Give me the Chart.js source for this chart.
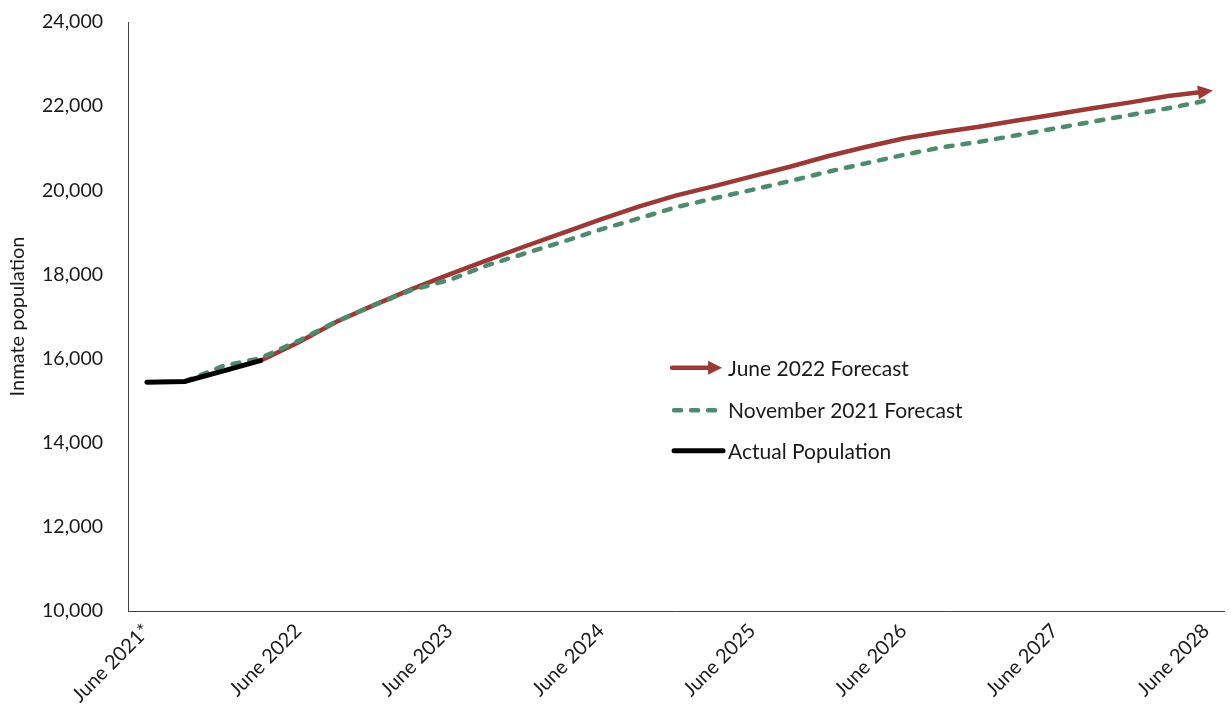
<!DOCTYPE html>
<html>
<head>
<meta charset="utf-8">
<script src="https://cdn.jsdelivr.net/npm/chart.js@4/dist/chart.umd.min.js"></script>
<style>
  html, body { margin: 0; padding: 0; background: #fff; }
  #wrap { width: 1231px; height: 715px; }
</style>
</head>
<body>
<div id="wrap"><canvas id="c" width="1231" height="715"></canvas></div>
<script>
// Quarterly periods, June 2021 through June 2028
const quarters = [
  'Jun 2021', 'Sep 2021', 'Dec 2021', 'Mar 2022',
  'Jun 2022', 'Sep 2022', 'Dec 2022', 'Mar 2023',
  'Jun 2023', 'Sep 2023', 'Dec 2023', 'Mar 2024',
  'Jun 2024', 'Sep 2024', 'Dec 2024', 'Mar 2025',
  'Jun 2025', 'Sep 2025', 'Dec 2025', 'Mar 2026',
  'Jun 2026', 'Sep 2026', 'Dec 2026', 'Mar 2027',
  'Jun 2027', 'Sep 2027', 'Dec 2027', 'Mar 2028',
  'Jun 2028'
];

// Year labels shown on the horizontal axis (one per four quarters)
const yearTicks = [
  'June 2021*', 'June 2022', 'June 2023', 'June 2024',
  'June 2025', 'June 2026', 'June 2027', 'June 2028'
];

// Population values
const actualPopulation = [15440, 15455, 15700, 15950];

const june2022Forecast = [
  null, null, null, 15950,
  16380, 16870, 17270, 17650,
  18000, 18340, 18670, 18990,
  19310, 19610, 19880, 20100,
  20330, 20560, 20810, 21030,
  21230, 21380, 21510, 21660,
  21800, 21950, 22090, 22240,
  22350
];

const nov2021Forecast = [
  null, 15455, 15820, 16010,
  16420, 16880, 17270, 17630,
  17870, 18220, 18500, 18780,
  19070, 19330, 19600, 19810,
  20010, 20220, 20440, 20640,
  20840, 21020, 21150, 21310,
  21470, 21630, 21790, 21950,
  22130
];

const yTickValues = [10000, 12000, 14000, 16000, 18000, 20000, 22000, 24000];

const RED = '#9B3936';
const GREEN = '#4E8B6D';
const BLACK = '#000000';
const FONT = 'Lato, "Liberation Sans", sans-serif';
const TEXT = '#1a1a1a';

function drawArrowHead(ctx, tipX, tipY, angle, len, halfW, color) {
  ctx.save();
  ctx.translate(tipX, tipY);
  ctx.rotate(angle);
  ctx.beginPath();
  ctx.moveTo(0, 0);
  ctx.lineTo(-len, -halfW);
  ctx.lineTo(-len, halfW);
  ctx.closePath();
  ctx.fillStyle = color;
  ctx.fill();
  ctx.restore();
}

// Arrow at the end of the June 2022 forecast line, plus the in-plot legend
const decorations = {
  id: 'decorations',
  afterDatasetsDraw(chart) {
    const ctx = chart.ctx;
    const meta = chart.getDatasetMeta(0);
    const pts = meta.data;
    const last = pts[pts.length - 1];
    const prev = pts[pts.length - 2];
    const ang = Math.atan2(last.y - prev.y, last.x - prev.x);
    drawArrowHead(ctx, last.x + Math.cos(ang) * 7, last.y + Math.sin(ang) * 7, ang, 15, 7, RED);

    // legend
    const a = chart.chartArea;
    const lx = a.left + (a.right - a.left) * 0.496;
    const rows = [
      { label: 'June 2022 Forecast', y: a.top + (a.bottom - a.top) * 0.587 },
      { label: 'November 2021 Forecast', y: a.top + (a.bottom - a.top) * 0.659 },
      { label: 'Actual Population', y: a.top + (a.bottom - a.top) * 0.728 }
    ];
    ctx.save();
    ctx.lineCap = 'round';
    // red arrow line
    ctx.strokeStyle = RED;
    ctx.lineWidth = 4.5;
    ctx.beginPath();
    ctx.moveTo(lx, rows[0].y);
    ctx.lineTo(lx + 38, rows[0].y);
    ctx.stroke();
    drawArrowHead(ctx, lx + 50, rows[0].y, 0, 14, 7, RED);
    // green dashed line
    ctx.strokeStyle = GREEN;
    ctx.lineWidth = 4.5;
    ctx.setLineDash([7, 10]);
    ctx.beginPath();
    ctx.moveTo(lx + 2, rows[1].y);
    ctx.lineTo(lx + 50, rows[1].y);
    ctx.stroke();
    ctx.setLineDash([]);
    // black line
    ctx.strokeStyle = BLACK;
    ctx.lineWidth = 5;
    ctx.beginPath();
    ctx.moveTo(lx + 2, rows[2].y);
    ctx.lineTo(lx + 51, rows[2].y);
    ctx.stroke();
    // labels
    ctx.fillStyle = TEXT;
    ctx.font = '21px ' + FONT;
    ctx.textAlign = 'left';
    ctx.textBaseline = 'middle';
    rows.forEach(r => ctx.fillText(r.label, lx + 56, r.y + 1));
    ctx.restore();
  }
};

new Chart(document.getElementById('c'), {
  type: 'line',
  data: {
    labels: quarters,
    datasets: [
      {
        label: 'June 2022 Forecast',
        data: june2022Forecast,
        borderColor: RED,
        borderWidth: 4.5,
        pointRadius: 0,
        tension: 0,
        borderCapStyle: 'butt',
        order: 2
      },
      {
        label: 'November 2021 Forecast',
        data: nov2021Forecast,
        borderColor: GREEN,
        borderWidth: 4.5,
        borderDash: [7, 10],
        borderCapStyle: 'round',
        pointRadius: 0,
        tension: 0,
        order: 1
      },
      {
        label: 'Actual Population',
        data: actualPopulation,
        borderColor: BLACK,
        borderWidth: 5,
        borderCapStyle: 'round',
        pointRadius: 0,
        tension: 0,
        order: 0
      }
    ]
  },
  options: {
    responsive: false,
    animation: false,
    layout: { padding: { top: 22, right: 3, left: 0, bottom: 0 } },
    plugins: {
      legend: { display: false },
      tooltip: { enabled: false }
    },
    scales: {
      x: {
        offset: true,
        grid: { display: false, drawTicks: false },
        border: { display: true, color: '#404040', width: 1 },
        ticks: {
          autoSkip: false,
          minRotation: 45,
          maxRotation: 45,
          padding: 8,
          color: TEXT,
          font: { family: FONT, size: 20 },
          callback: (v, i) => (i % 4 === 0 ? yearTicks[i / 4] : '')
        },
        afterFit: s => { s.height = 104; }
      },
      y: {
        min: 10000,
        max: 24000,
        // invisible tick marks keep the labels clear of the axis line
        grid: {
          display: true,
          drawOnChartArea: false,
          drawTicks: true,
          tickLength: 23,
          tickColor: 'rgba(0,0,0,0)',
          color: 'rgba(0,0,0,0)'
        },
        border: { display: true, color: '#404040', width: 1 },
        afterBuildTicks: s => { s.ticks = yTickValues.map(v => ({ value: v })); },
        ticks: {
          padding: 2,
          color: TEXT,
          font: { family: FONT, size: 19.5 },
          callback: v => v.toLocaleString('en-US')
        },
        title: {
          display: true,
          text: 'Inmate population',
          color: TEXT,
          font: { family: FONT, size: 20 },
          padding: { top: 6, bottom: 0 }
        },
        afterFit: s => { s.width = 128; }
      }
    }
  },
  plugins: [decorations]
});
</script>
</body>
</html>
